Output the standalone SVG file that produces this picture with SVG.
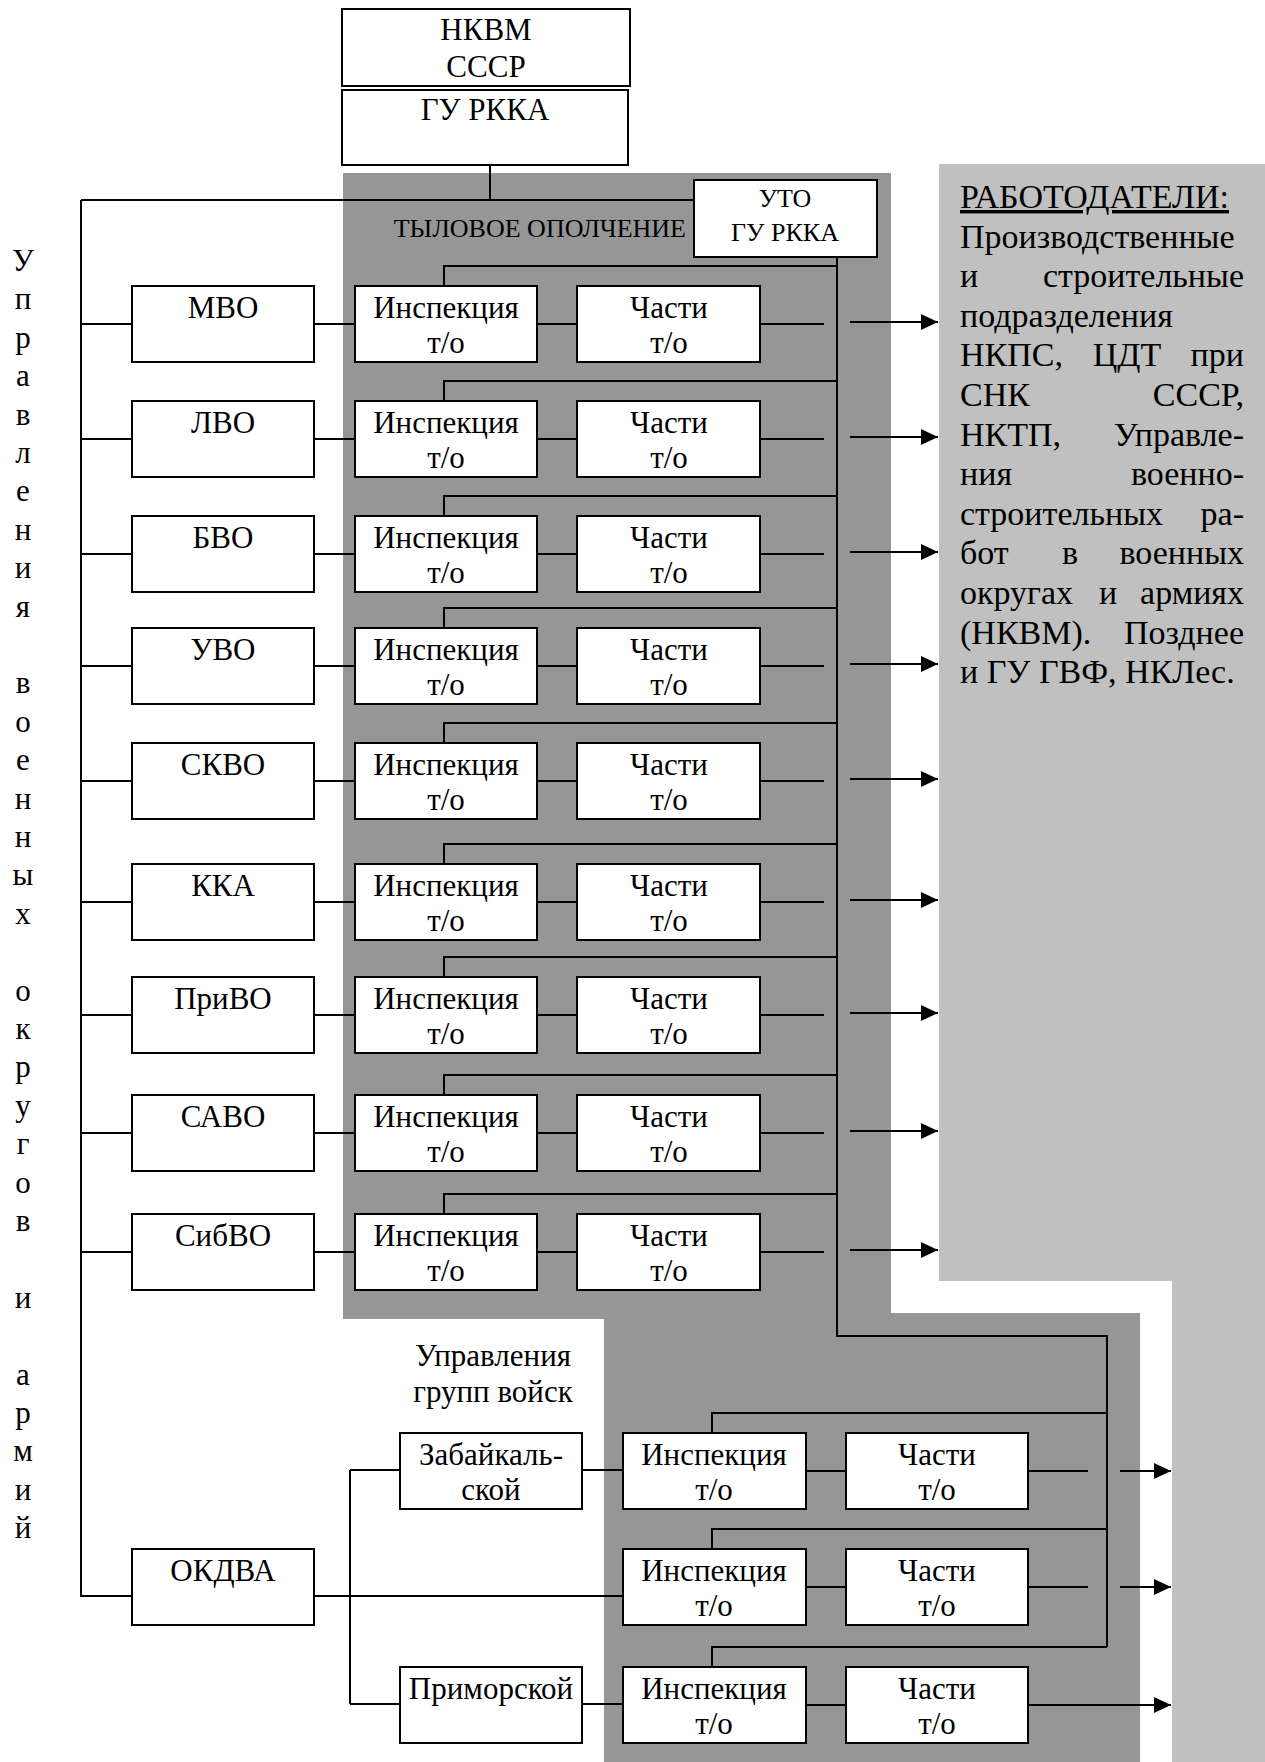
<svg xmlns="http://www.w3.org/2000/svg" width="1265" height="1762" viewBox="0 0 1265 1762">
<style>
.box{fill:#fff;stroke:#000;stroke-width:2}
.t{font-family:"Liberation Serif","Times New Roman",serif;font-size:31px;fill:#000}
.m{text-anchor:middle}
.e{text-anchor:end}
.s{font-size:26px}
.r{font-size:34px}
.ln{stroke:#000;stroke-width:2;fill:none}
</style>
<defs>
<marker id="ah" markerUnits="userSpaceOnUse" markerWidth="17" markerHeight="16" refX="17" refY="8" orient="auto">
<path d="M0,0 L17,8 L0,16 z" fill="#000"/>
</marker>
</defs>
<rect width="1265" height="1762" fill="#fff"/>
<g id="backgrounds">
<rect x="343" y="173" width="548" height="1146" fill="#969696"/>
<rect x="604" y="1313" width="536" height="449" fill="#969696"/>
<polygon points="939,164 1265,164 1265,1762 1172,1762 1172,1281 939,1281" fill="#c0c0c0"/>
</g>
<g id="connectors" class="ln">
<path d="M490,165 V200 M81,200 H694 M81,200 V1596 H132"/>
<path d="M837,257 V1336 H1107 V1647"/>
<path d="M81,324 H132 M314,324 H355 M537,324 H577 M760,324 H824 M444,286 V266 H837"/>
<path d="M81,439 H132 M314,439 H355 M537,439 H577 M760,439 H824 M444,401 V381 H837"/>
<path d="M81,554 H132 M314,554 H355 M537,554 H577 M760,554 H824 M444,516 V496 H837"/>
<path d="M81,666 H132 M314,666 H355 M537,666 H577 M760,666 H824 M444,628 V608 H837"/>
<path d="M81,781 H132 M314,781 H355 M537,781 H577 M760,781 H824 M444,743 V723 H837"/>
<path d="M81,902 H132 M314,902 H355 M537,902 H577 M760,902 H824 M444,864 V844 H837"/>
<path d="M81,1015 H132 M314,1015 H355 M537,1015 H577 M760,1015 H824 M444,977 V957 H837"/>
<path d="M81,1133 H132 M314,1133 H355 M537,1133 H577 M760,1133 H824 M444,1095 V1075 H837"/>
<path d="M81,1252 H132 M314,1252 H355 M537,1252 H577 M760,1252 H824 M444,1214 V1194 H837"/>
<path d="M314,1596 H623 M350,1470 V1704 M350,1470 H400 M350,1704 H400 M582,1470 H623 M582,1704 H623"/>
<path d="M806,1471 H846 M806,1587 H846 M806,1705 H846 M1028,1471 H1088 M1028,1587 H1088"/>
<path d="M712,1433 V1413 H1107 M712,1549 V1529 H1107 M712,1667 V1647 H1107"/>
<g marker-end="url(#ah)">
<path d="M850,322 H938"/><path d="M850,437 H938"/><path d="M850,552 H938"/><path d="M850,664 H938"/>
<path d="M850,779 H938"/><path d="M850,900 H938"/><path d="M850,1013 H938"/><path d="M850,1131 H938"/>
<path d="M850,1250 H938"/>
<path d="M1120,1471 H1171"/><path d="M1120,1587 H1171"/><path d="M1028,1705 H1171"/>
</g>
</g>
<g id="nkvm"><rect class="box" x="342" y="9" width="288" height="77"/><text class="t m" x="486" y="40">НКВМ</text><text class="t m" x="486" y="77">СССР</text></g>
<g id="gurkka"><rect class="box" x="342" y="90" width="286" height="75"/><text class="t m" x="485" y="120">ГУ РККА</text></g>
<g id="tyl"><text class="t s e" x="686" y="237">ТЫЛОВОЕ ОПОЛЧЕНИЕ</text></g>
<g id="uto"><rect class="box" x="694" y="180" width="183" height="77"/><text class="t s m" x="785" y="207">УТО</text><text class="t s m" x="785" y="241">ГУ РККА</text></g>
<g id="d-mvo"><rect class="box" x="132" y="286" width="182" height="76"/><text class="t m" x="223" y="318">МВО</text></g>
<g id="i-mvo"><rect class="box" x="355" y="286" width="182" height="76"/><text class="t m" x="446" y="318">Инспекция</text><text class="t m" x="446" y="353">т/о</text></g>
<g id="p-mvo"><rect class="box" x="577" y="286" width="183" height="76"/><text class="t m" x="669" y="318">Части</text><text class="t m" x="669" y="353">т/о</text></g>
<g id="d-lvo"><rect class="box" x="132" y="401" width="182" height="76"/><text class="t m" x="223" y="433">ЛВО</text></g>
<g id="i-lvo"><rect class="box" x="355" y="401" width="182" height="76"/><text class="t m" x="446" y="433">Инспекция</text><text class="t m" x="446" y="468">т/о</text></g>
<g id="p-lvo"><rect class="box" x="577" y="401" width="183" height="76"/><text class="t m" x="669" y="433">Части</text><text class="t m" x="669" y="468">т/о</text></g>
<g id="d-bvo"><rect class="box" x="132" y="516" width="182" height="76"/><text class="t m" x="223" y="548">БВО</text></g>
<g id="i-bvo"><rect class="box" x="355" y="516" width="182" height="76"/><text class="t m" x="446" y="548">Инспекция</text><text class="t m" x="446" y="583">т/о</text></g>
<g id="p-bvo"><rect class="box" x="577" y="516" width="183" height="76"/><text class="t m" x="669" y="548">Части</text><text class="t m" x="669" y="583">т/о</text></g>
<g id="d-uvo"><rect class="box" x="132" y="628" width="182" height="76"/><text class="t m" x="223" y="660">УВО</text></g>
<g id="i-uvo"><rect class="box" x="355" y="628" width="182" height="76"/><text class="t m" x="446" y="660">Инспекция</text><text class="t m" x="446" y="695">т/о</text></g>
<g id="p-uvo"><rect class="box" x="577" y="628" width="183" height="76"/><text class="t m" x="669" y="660">Части</text><text class="t m" x="669" y="695">т/о</text></g>
<g id="d-skvo"><rect class="box" x="132" y="743" width="182" height="76"/><text class="t m" x="223" y="775">СКВО</text></g>
<g id="i-skvo"><rect class="box" x="355" y="743" width="182" height="76"/><text class="t m" x="446" y="775">Инспекция</text><text class="t m" x="446" y="810">т/о</text></g>
<g id="p-skvo"><rect class="box" x="577" y="743" width="183" height="76"/><text class="t m" x="669" y="775">Части</text><text class="t m" x="669" y="810">т/о</text></g>
<g id="d-kka"><rect class="box" x="132" y="864" width="182" height="76"/><text class="t m" x="223" y="896">ККА</text></g>
<g id="i-kka"><rect class="box" x="355" y="864" width="182" height="76"/><text class="t m" x="446" y="896">Инспекция</text><text class="t m" x="446" y="931">т/о</text></g>
<g id="p-kka"><rect class="box" x="577" y="864" width="183" height="76"/><text class="t m" x="669" y="896">Части</text><text class="t m" x="669" y="931">т/о</text></g>
<g id="d-privo"><rect class="box" x="132" y="977" width="182" height="76"/><text class="t m" x="223" y="1009">ПриВО</text></g>
<g id="i-privo"><rect class="box" x="355" y="977" width="182" height="76"/><text class="t m" x="446" y="1009">Инспекция</text><text class="t m" x="446" y="1044">т/о</text></g>
<g id="p-privo"><rect class="box" x="577" y="977" width="183" height="76"/><text class="t m" x="669" y="1009">Части</text><text class="t m" x="669" y="1044">т/о</text></g>
<g id="d-savo"><rect class="box" x="132" y="1095" width="182" height="76"/><text class="t m" x="223" y="1127">САВО</text></g>
<g id="i-savo"><rect class="box" x="355" y="1095" width="182" height="76"/><text class="t m" x="446" y="1127">Инспекция</text><text class="t m" x="446" y="1162">т/о</text></g>
<g id="p-savo"><rect class="box" x="577" y="1095" width="183" height="76"/><text class="t m" x="669" y="1127">Части</text><text class="t m" x="669" y="1162">т/о</text></g>
<g id="d-sibvo"><rect class="box" x="132" y="1214" width="182" height="76"/><text class="t m" x="223" y="1246">СибВО</text></g>
<g id="i-sibvo"><rect class="box" x="355" y="1214" width="182" height="76"/><text class="t m" x="446" y="1246">Инспекция</text><text class="t m" x="446" y="1281">т/о</text></g>
<g id="p-sibvo"><rect class="box" x="577" y="1214" width="183" height="76"/><text class="t m" x="669" y="1246">Части</text><text class="t m" x="669" y="1281">т/о</text></g>
<g id="groups-label"><text class="t m" x="493" y="1366">Управления</text><text class="t m" x="493" y="1402">групп войск</text></g>
<g id="d-okdva"><rect class="box" x="132" y="1549" width="182" height="76"/><text class="t m" x="223" y="1581">ОКДВА</text></g>
<g id="g-zab"><rect class="box" x="400" y="1433" width="182" height="76"/><text class="t m" x="491" y="1465">Забайкаль-</text><text class="t m" x="491" y="1500">ской</text></g>
<g id="g-prim"><rect class="box" x="400" y="1667" width="182" height="76"/><text class="t m" x="491" y="1699">Приморской</text></g>
<g id="i-zab"><rect class="box" x="623" y="1433" width="183" height="76"/><text class="t m" x="714" y="1465">Инспекция</text><text class="t m" x="714" y="1500">т/о</text></g>
<g id="p-zab"><rect class="box" x="846" y="1433" width="182" height="76"/><text class="t m" x="937" y="1465">Части</text><text class="t m" x="937" y="1500">т/о</text></g>
<g id="i-okdva"><rect class="box" x="623" y="1549" width="183" height="76"/><text class="t m" x="714" y="1581">Инспекция</text><text class="t m" x="714" y="1616">т/о</text></g>
<g id="p-okdva"><rect class="box" x="846" y="1549" width="182" height="76"/><text class="t m" x="937" y="1581">Части</text><text class="t m" x="937" y="1616">т/о</text></g>
<g id="i-prim"><rect class="box" x="623" y="1667" width="183" height="76"/><text class="t m" x="714" y="1699">Инспекция</text><text class="t m" x="714" y="1734">т/о</text></g>
<g id="p-prim"><rect class="box" x="846" y="1667" width="182" height="76"/><text class="t m" x="937" y="1699">Части</text><text class="t m" x="937" y="1734">т/о</text></g>
<g id="employers" class="t r">
<text x="960" y="208" text-decoration="underline">РАБОТОДАТЕЛИ:</text>
<text x="960" y="248">Производственные</text>
<text x="960" y="287">и</text><text class="e" x="1244" y="287">строительные</text>
<text x="960" y="327">подразделения</text>
<text x="960" y="366">НКПС,</text><text class="m" x="1127" y="366">ЦДТ</text><text class="e" x="1244" y="366">при</text>
<text x="960" y="406">СНК</text><text class="e" x="1244" y="406">СССР,</text>
<text x="960" y="446">НКТП,</text><text class="e" x="1244" y="446">Управле-</text>
<text x="960" y="485">ния</text><text class="e" x="1244" y="485">военно-</text>
<text x="960" y="525">строительных</text><text class="e" x="1244" y="525">ра-</text>
<text x="960" y="564">бот</text><text class="m" x="1070" y="564">в</text><text class="e" x="1244" y="564">военных</text>
<text x="960" y="604">округах</text><text class="m" x="1108" y="604">и</text><text class="e" x="1244" y="604">армиях</text>
<text x="960" y="644">(НКВМ).</text><text class="e" x="1244" y="644">Позднее</text>
<text x="960" y="683">и ГУ ГВФ, НКЛес.</text>
</g>
<g id="vertical-label" class="t m">
<text x="23" y="271">У</text><text x="23" y="309">п</text><text x="23" y="348">р</text><text x="23" y="386">а</text><text x="23" y="425">в</text><text x="23" y="463">л</text><text x="23" y="501">е</text><text x="23" y="540">н</text><text x="23" y="578">и</text><text x="23" y="617">я</text>
<text x="23" y="693">в</text><text x="23" y="732">о</text><text x="23" y="770">е</text><text x="23" y="809">н</text><text x="23" y="847">н</text><text x="23" y="885">ы</text><text x="23" y="924">х</text>
<text x="23" y="1001">о</text><text x="23" y="1039">к</text><text x="23" y="1077">р</text><text x="23" y="1116">у</text><text x="23" y="1154">г</text><text x="23" y="1193">о</text><text x="23" y="1231">в</text>
<text x="23" y="1308">и</text>
<text x="23" y="1385">а</text><text x="23" y="1423">р</text><text x="23" y="1461">м</text><text x="23" y="1500">и</text><text x="23" y="1538">й</text>
</g>
</svg>
